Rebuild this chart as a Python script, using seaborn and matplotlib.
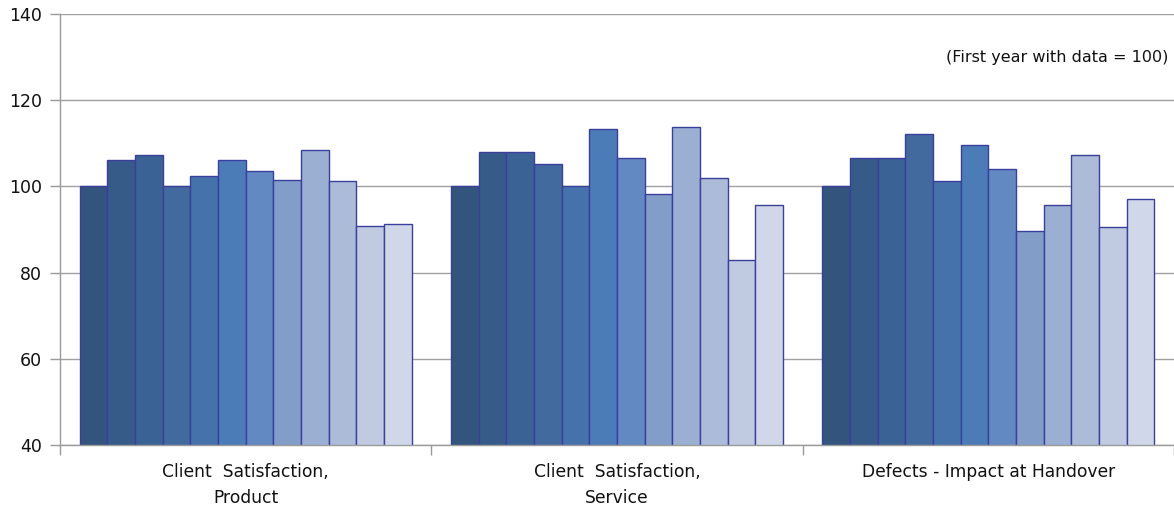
import matplotlib
matplotlib.use("Agg")
import matplotlib.pyplot as plt
from matplotlib.ticker import FixedLocator
import seaborn as sns
import pandas as pd

# Indexed performance per measure, one bar per year (first year with data = 100)
measures = [
    "Client  Satisfaction,\nProduct",
    "Client  Satisfaction,\nService",
    "Defects - Impact at Handover",
]
years = [f"Year {i}" for i in range(1, 13)]

product_values = [100.0, 106.1, 107.3, 100.0, 102.3, 106.1, 103.5, 101.6, 108.4, 101.3, 90.9, 91.2]
service_values = [100.0, 107.9, 107.9, 105.3, 100.0, 113.3, 106.7, 98.2, 113.8, 102.0, 83.0, 95.8]
defects_values = [100.0, 106.7, 106.7, 112.2, 101.3, 109.5, 104.0, 89.6, 95.8, 107.4, 90.6, 97.1]

year_colors = [
    "#33557d", "#375b89", "#3b6294", "#426a9f", "#4672ab", "#4b7cb8",
    "#6289c1", "#819dc8", "#9aafd2", "#acbbd8", "#c0cae1", "#d0d7e8",
]

rows = []
for measure, vals in zip(measures, [product_values, service_values, defects_values]):
    for year, v in zip(years, vals):
        rows.append({"measure": measure, "year": year, "value": v})
df = pd.DataFrame(rows)

sns.set_theme(style="white")
plt.rcParams["font.family"] = ["DejaVu Sans"]

fig = plt.figure(figsize=(11.74, 5.13), dpi=100)
ax = fig.add_axes([60 / 1174, 1 - 445 / 513, 1114 / 1174, 431 / 513])

sns.barplot(
    data=df, x="measure", y="value", hue="year", order=measures,
    hue_order=years, palette=year_colors, width=0.894, dodge=True,
    edgecolor="#3a3f9e", linewidth=1.0, legend=False, ax=ax,
    errorbar=None, saturation=1,
)

ax.set_ylim(40, 140)
ax.set_xlim(-0.5, 2.5)
ax.set_yticks([40, 60, 80, 100, 120, 140])
ax.yaxis.grid(True, color="#a0a0a0", linewidth=1.0)
ax.set_axisbelow(True)

ax.set_xlabel("")
ax.set_ylabel("")

for side in ["top", "right"]:
    ax.spines[side].set_visible(False)
for side in ["left", "bottom"]:
    ax.spines[side].set_color("#9a9a9a")
    ax.spines[side].set_linewidth(1.0)

ax.tick_params(axis="y", which="major", left=True, length=7, width=1,
               color="#9a9a9a", labelsize=12.5, labelcolor="#111111", pad=6)
ax.tick_params(axis="x", which="major", bottom=False, length=0,
               labelsize=12.3, labelcolor="#111111", pad=13)
ax.xaxis.set_minor_locator(FixedLocator([-0.5, 0.5, 1.5, 2.5]))
ax.tick_params(axis="x", which="minor", bottom=True, length=7, width=1,
               color="#9a9a9a")

for lbl in ax.get_xticklabels():
    lbl.set_horizontalalignment("center")
    lbl.set_linespacing(1.55)

ax.text(0.9946, 0.900, "(First year with data = 100)", transform=ax.transAxes,
        ha="right", va="center", fontsize=11.5, color="#111111")

fig.savefig("out.png", dpi=100)
